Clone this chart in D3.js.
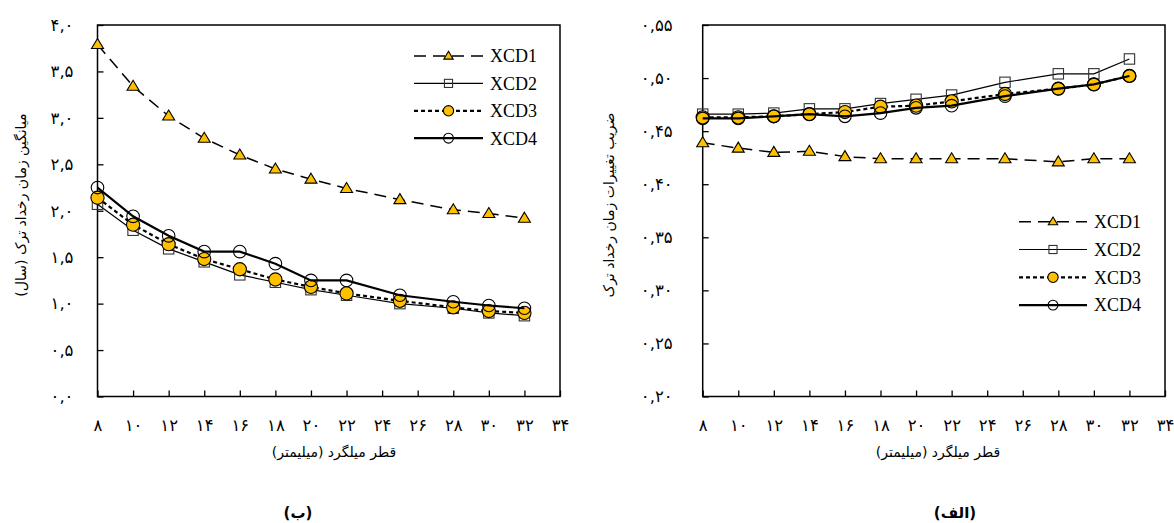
<!DOCTYPE html>
<html lang="fa">
<head>
<meta charset="utf-8">
<script src="https://cdn.jsdelivr.net/npm/d3@7"></script>
<style>
  html, body { margin: 0; padding: 0; background: #ffffff; }
  svg { display: block; }
  .fa { font-family: "DejaVu Sans", "Noto Sans", sans-serif; }
  .lat { font-family: "Liberation Serif", "DejaVu Serif", serif; }
</style>
</head>
<body>
<svg id="chart" width="1174" height="523"></svg>
<script>
// Rebar diameter (mm)
const diameters = [8, 10, 12, 14, 16, 18, 20, 22, 25, 28, 30, 32];
const seriesNames = ["XCD1", "XCD2", "XCD3", "XCD4"];

// Panel (b): mean time to crack initiation (years)
const meanXCD1 = [3.79, 3.34, 3.02, 2.78, 2.60, 2.45, 2.34, 2.24, 2.12, 2.01, 1.97, 1.92];
const meanXCD2 = [2.07, 1.79, 1.59, 1.45, 1.31, 1.23, 1.15, 1.09, 1.00, 0.95, 0.90, 0.87];
const meanXCD3 = [2.14, 1.85, 1.64, 1.48, 1.37, 1.26, 1.18, 1.11, 1.03, 0.96, 0.92, 0.90];
const meanXCD4 = [2.25, 1.94, 1.73, 1.56, 1.56, 1.43, 1.25, 1.25, 1.09, 1.02, 0.98, 0.95];

// Panel (الف): coefficient of variation of time to crack initiation
const covXCD1 = [0.439, 0.434, 0.430, 0.431, 0.426, 0.424, 0.424, 0.424, 0.424, 0.421, 0.424, 0.424];
const covXCD2 = [0.466, 0.466, 0.467, 0.471, 0.471, 0.476, 0.480, 0.484, 0.496, 0.504, 0.504, 0.518];
const covXCD3 = [0.463, 0.463, 0.464, 0.466, 0.468, 0.473, 0.474, 0.478, 0.485, 0.490, 0.494, 0.502];
const covXCD4 = [0.462, 0.462, 0.464, 0.466, 0.464, 0.467, 0.472, 0.474, 0.483, 0.490, 0.494, 0.502];

// Axis ticks
const xTicks = [8, 10, 12, 14, 16, 18, 20, 22, 24, 26, 28, 30, 32, 34];
const meanTicks = [0, 0.5, 1.0, 1.5, 2.0, 2.5, 3.0, 3.5, 4.0];
const covTicks = [0.20, 0.25, 0.30, 0.35, 0.40, 0.45, 0.50, 0.55];

// Texts
const xTitle = "قطر میلگرد (میلیمتر)";
const meanTitle = "میانگین زمان رخداد ترک (سال)";
const covTitle = "ضریب تغییرات زمان رخداد ترک";
const labelB = "(ب)";
const labelAlef = "(الف)";

const faDigits = "۰۱۲۳۴۵۶۷۸۹";
const toFa = s => String(s).replace(/\d/g, d => faDigits[+d]).replace(".", ",");

// Line and marker styles per series
const styles = {
  XCD1: { dash: "12,7", width: 1.5, marker: "triangle", fill: "#FFC000", stroke: "#000" },
  XCD2: { dash: null, width: 1.2, marker: "square", fill: "none", stroke: "#333" },
  XCD3: { dash: "4,3", width: 2.2, marker: "circle", fill: "#FFC000", stroke: "#000" },
  XCD4: { dash: null, width: 2.2, marker: "circle", fill: "none", stroke: "#000" }
};

const svg = d3.select("#chart");

function drawMarker(g, type, x, y, st, scale) {
  const s = scale || 1;
  if (type === "triangle") {
    const w = 6 * s, h = 10 * s;
    g.append("path")
      .attr("d", `M${x},${y - h * 0.6}L${x + w},${y + h * 0.4}L${x - w},${y + h * 0.4}Z`)
      .attr("fill", st.fill).attr("stroke", st.stroke).attr("stroke-width", 1.1);
  } else if (type === "square") {
    const a = 5.2 * s;
    g.append("rect")
      .attr("x", x - a).attr("y", y - a).attr("width", 2 * a).attr("height", 2 * a)
      .attr("fill", st.fill).attr("stroke", st.stroke).attr("stroke-width", 1.1);
  } else {
    const r = (st.fill === "none" ? 6.3 : 6.6) * s;
    g.append("circle")
      .attr("cx", x).attr("cy", y).attr("r", r)
      .attr("fill", st.fill).attr("stroke", st.stroke).attr("stroke-width", 1.1);
  }
}

function panel(cfg) {
  const x = d3.scaleLinear().domain([8, 34]).range([cfg.left, cfg.right]);
  const y = d3.scaleLinear().domain(cfg.yDomain).range([cfg.bottom, cfg.top]);
  const g = svg.append("g");

  // Axes with inward ticks
  const xAxis = g.append("g")
    .attr("transform", `translate(0,${cfg.bottom})`)
    .call(d3.axisBottom(x).tickValues(xTicks).tickSize(-6).tickPadding(23)
      .tickFormat(d => toFa(d)));
  const yAxis = g.append("g")
    .attr("transform", `translate(${cfg.left},0)`)
    .call(d3.axisLeft(y).tickValues(cfg.yTicks).tickSize(-6).tickPadding(cfg.yPad)
      .tickFormat(d => toFa(d.toFixed(cfg.decimals))));
  [xAxis, yAxis].forEach(a => {
    a.select(".domain").remove();
    a.selectAll(".tick line").attr("stroke", "#000").attr("stroke-width", 1.3);
    a.selectAll(".tick text")
      .attr("class", "fa").attr("fill", "#000")
      .attr("font-size", 16.5).attr("direction", "ltr");
  });

  // Frame
  g.append("rect")
    .attr("x", cfg.left).attr("y", cfg.top)
    .attr("width", cfg.right - cfg.left).attr("height", cfg.bottom - cfg.top)
    .attr("fill", "none").attr("stroke", "#000").attr("stroke-width", 1.5);

  // Series
  const line = d3.line().x(d => x(d[0])).y(d => y(d[1]));
  seriesNames.forEach((name, i) => {
    const st = styles[name];
    const pts = diameters.map((d, j) => [d, cfg.values[i][j]]);
    g.append("path").datum(pts)
      .attr("d", line).attr("fill", "none")
      .attr("stroke", "#000").attr("stroke-width", st.width)
      .attr("stroke-dasharray", st.dash);
    pts.forEach(p => drawMarker(g, st.marker, x(p[0]), y(p[1]), st, 1));
  });

  // Legend
  seriesNames.forEach((name, i) => {
    const st = styles[name];
    const ly = cfg.legend.y0 + i * cfg.legend.dy;
    g.append("line")
      .attr("x1", cfg.legend.x0).attr("x2", cfg.legend.x1)
      .attr("y1", ly).attr("y2", ly)
      .attr("stroke", "#000").attr("stroke-width", st.width)
      .attr("stroke-dasharray", st.dash);
    drawMarker(g, st.marker, (cfg.legend.x0 + cfg.legend.x1) / 2, ly, st, 0.78);
    g.append("text").attr("class", "lat")
      .attr("x", cfg.legend.x1 + 7).attr("y", ly).attr("dy", "0.35em")
      .attr("font-size", 18).attr("fill", "#000").text(name);
  });

  // Titles
  g.append("text").attr("class", "fa")
    .attr("x", cfg.xTitleX).attr("y", 457)
    .attr("text-anchor", "middle").attr("direction", "rtl")
    .attr("font-size", 14).attr("fill", "#000").text(xTitle);
  g.append("text").attr("class", "fa")
    .attr("transform", `translate(${cfg.yTitleX},${cfg.yTitleY}) rotate(-90)`)
    .attr("text-anchor", "middle").attr("direction", "rtl")
    .attr("font-size", 14).attr("fill", "#000").text(cfg.yTitle);
  g.append("text").attr("class", "fa")
    .attr("x", cfg.labelX).attr("y", 518)
    .attr("text-anchor", "middle").attr("direction", "rtl")
    .attr("font-size", 15).attr("font-weight", "bold").attr("fill", "#000")
    .text(cfg.label);
}

panel({
  left: 97.5, right: 560, top: 25, bottom: 396.5,
  yDomain: [0, 4], yTicks: meanTicks, decimals: 1, yPad: 24,
  values: [meanXCD1, meanXCD2, meanXCD3, meanXCD4],
  legend: { x0: 414, x1: 483, y0: 56, dy: 27.4 },
  xTitleX: 334, yTitleX: 26, yTitleY: 205, yTitle: meanTitle,
  labelX: 298, label: labelB
});

panel({
  left: 702.7, right: 1165, top: 25, bottom: 396.5,
  yDomain: [0.2, 0.55], yTicks: covTicks, decimals: 2, yPad: 30,
  values: [covXCD1, covXCD2, covXCD3, covXCD4],
  legend: { x0: 1019, x1: 1087, y0: 221.7, dy: 27.8 },
  xTitleX: 938, yTitleX: 614, yTitleY: 205, yTitle: covTitle,
  labelX: 955, label: labelAlef
});
</script>
</body>
</html>
